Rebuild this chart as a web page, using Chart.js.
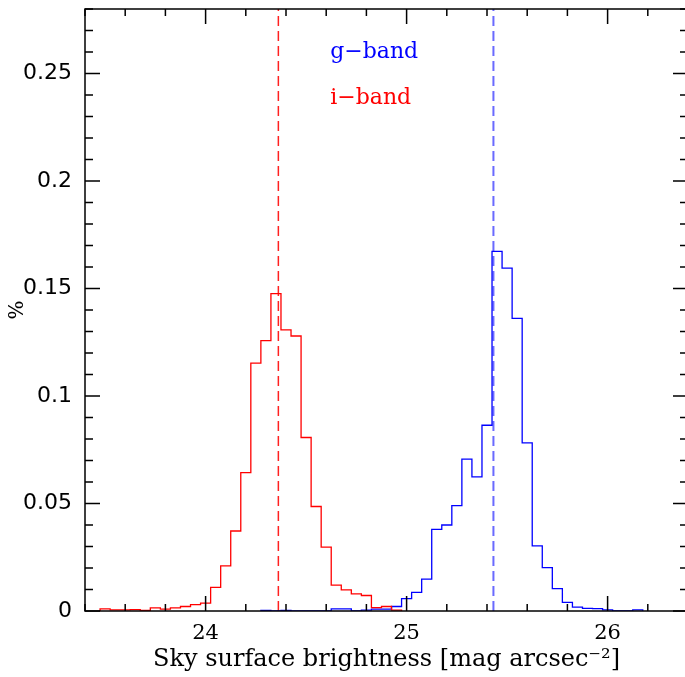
<!DOCTYPE html>
<html>
<head>
<meta charset="utf-8">
<script src="https://cdn.jsdelivr.net/npm/chart.js@4.4.1/dist/chart.umd.min.js"></script>
<style>
  html, body { margin: 0; padding: 0; background: #fff; overflow: hidden; }
  #wrap { width: 690px; height: 677px; }
</style>
</head>
<body>
<div id="wrap"><canvas id="myChart" width="690" height="677"></canvas></div>
<script>
// centros de los bins (mag arcsec^-2), ancho 0.05
const magBins = [
  23.50, 23.55, 23.60, 23.65, 23.70, 23.75, 23.80, 23.85, 23.90, 23.95,
  24.00, 24.05, 24.10, 24.15, 24.20, 24.25, 24.30, 24.35, 24.40, 24.45,
  24.50, 24.55, 24.60, 24.65, 24.70, 24.75, 24.80, 24.85, 24.90, 24.95,
  25.00, 25.05, 25.10, 25.15, 25.20, 25.25, 25.30, 25.35, 25.40, 25.45,
  25.50, 25.55, 25.60, 25.65, 25.70, 25.75, 25.80, 25.85, 25.90, 25.95,
  26.00, 26.05, 26.10, 26.15
];
const binWidth = 0.05;

const iBand = [
  0.0010, 0.0005, 0.0005, 0.0006, 0.0003, 0.0015, 0.0009, 0.0015, 0.0021, 0.0030,
  0.0037, 0.0110, 0.0210, 0.0372, 0.0644, 0.1153, 0.1258, 0.1476, 0.1308, 0.1279,
  0.0807, 0.0486, 0.0297, 0.0120, 0.0098, 0.0080, 0.0072, 0.0016, 0.0021, 0.0004,
  0, 0, 0, 0, 0, 0, 0, 0, 0, 0,
  0, 0, 0, 0, 0, 0, 0, 0, 0, 0,
  0, 0, 0, 0
];

const gBand = [
  0, 0, 0, 0, 0, 0, 0, 0, 0, 0,
  0, 0, 0, 0, 0, 0, 0.0003, 0, 0.0003, 0,
  0, 0, 0, 0.0010, 0.0010, 0, 0.0004, 0.0009, 0.0009, 0.0021,
  0.0058, 0.0087, 0.0148, 0.0380, 0.0400, 0.0490, 0.0706, 0.0624, 0.0864, 0.1673,
  0.1595, 0.1361, 0.0782, 0.0303, 0.0202, 0.0104, 0.0040, 0.0018, 0.0012, 0.0011,
  0.0005, 0, 0, 0.0005
];

// medianas (lineas punteadas)
const iMedian = 24.362;
const gMedian = 25.432;

const xTicks = [24, 25, 26];
const yTicks = [0, 0.05, 0.1, 0.15, 0.2, 0.25];
const yTickLabels = ["0", "0.05", "0.1", "0.15", "0.2", "0.25"];

const xMin = 23.4, xMax = 26.4;
const yMin = 0, yMax = 0.28;

// arma los escalones del histograma (solo entre el primer y el ultimo bin no vacio)
function histograma(valores) {
  let ini = 0, fin = valores.length - 1;
  while (ini < fin && valores[ini] === 0) ini++;
  while (fin > ini && valores[fin] === 0) fin--;
  let pts = [{ x: magBins[ini] - binWidth / 2, y: 0 }];
  for (let i = ini; i <= fin; i++) {
    pts.push({ x: magBins[i] - binWidth / 2, y: valores[i] });
  }
  pts.push({ x: magBins[fin] + binWidth / 2, y: 0 });
  return pts;
}

// marco con ticks hacia adentro en los 4 lados + etiquetas de banda
const marcoPlugin = {
  id: "marco",
  afterDraw(chart) {
    const ctx = chart.ctx;
    const a = chart.chartArea;
    const sx = chart.scales.x;
    const sy = chart.scales.y;
    ctx.save();
    ctx.strokeStyle = "#000";
    ctx.lineWidth = 1.5;
    ctx.strokeRect(a.left, a.top, a.right - a.left, a.bottom - a.top);

    // ticks x: menores cada 0.2
    for (let k = 0; k <= 15; k++) {
      const v = xMin + k * 0.2;
      const px = sx.getPixelForValue(v);
      const mayor = Math.abs(v - Math.round(v)) < 1e-6;
      const len = mayor ? 15 : 7;
      ctx.beginPath();
      ctx.moveTo(px, a.bottom); ctx.lineTo(px, a.bottom - len);
      ctx.moveTo(px, a.top); ctx.lineTo(px, a.top + len);
      ctx.stroke();
    }
    // ticks y: menores cada 0.01
    for (let k = 0; k <= 28; k++) {
      const v = k * 0.01;
      const py = sy.getPixelForValue(v);
      const len = (k % 5 === 0) ? 15 : 8;
      ctx.beginPath();
      ctx.moveTo(a.left, py); ctx.lineTo(a.left + len, py);
      ctx.moveTo(a.right, py); ctx.lineTo(a.right - len, py);
      ctx.stroke();
    }

    ctx.font = "22px 'DejaVu Serif'";
    ctx.textAlign = "left";
    ctx.textBaseline = "alphabetic";
    ctx.fillStyle = "#0000ff";
    ctx.fillText("g\u2212band", sx.getPixelForValue(24.62), sy.getPixelForValue(0.257));
    ctx.fillStyle = "#ff0000";
    ctx.fillText("i\u2212band", sx.getPixelForValue(24.62), sy.getPixelForValue(0.2358));
    ctx.restore();
  }
};

var ctx = document.getElementById("myChart").getContext("2d");
var myChart = new Chart(ctx, {
  type: "line",
  data: {
    datasets: [
      {
        label: "i-band",
        data: histograma(iBand),
        borderColor: "#ff0000",
        borderWidth: 1.3,
        stepped: "before",
        fill: false,
        pointRadius: 0,
      },
      {
        label: "g-band",
        data: histograma(gBand),
        borderColor: "#0000ff",
        borderWidth: 1.3,
        stepped: "before",
        fill: false,
        pointRadius: 0,
      },
      {
        label: "mediana i",
        data: [{ x: iMedian, y: yMin }, { x: iMedian, y: yMax }],
        borderColor: "#ff2020",
        borderWidth: 1.5,
        borderDash: [10, 5],
        pointRadius: 0,
      },
      {
        label: "mediana g",
        data: [{ x: gMedian, y: yMin }, { x: gMedian, y: yMax }],
        borderColor: "#6a6aff",
        borderWidth: 2,
        borderDash: [10, 5],
        pointRadius: 0,
      },
    ],
  },
  options: {
    responsive: false,
    animation: false,
    devicePixelRatio: 1,
    layout: { padding: { top: 9, right: 2, left: 0, bottom: 0 } },
    plugins: {
      legend: { display: false },
      tooltip: { enabled: false },
    },
    scales: {
      x: {
        type: "linear",
        min: xMin,
        max: xMax,
        grid: { display: false, drawTicks: false },
        border: { display: false },
        afterBuildTicks: function (s) {
          s.ticks = xTicks.map((v) => ({ value: v }));
        },
        afterFit: function (s) {
          s.height = 66;
          s.paddingLeft = 0;
          s.paddingRight = 0;
        },
        ticks: {
          autoSkip: false,
          maxRotation: 0,
          padding: 10,
          color: "#000",
          font: { family: "DejaVu Serif", size: 21 },
          callback: (v) => String(v),
        },
        title: {
          display: true,
          text: "Sky surface brightness [mag arcsec\u207B\u00B2]",
          color: "#000",
          font: { family: "DejaVu Serif", size: 24 },
          padding: { top: 0, bottom: 3 },
        },
      },
      y: {
        type: "linear",
        min: yMin,
        max: yMax,
        grid: { display: false, drawTicks: false },
        border: { display: false },
        afterBuildTicks: function (s) {
          s.ticks = yTicks.map((v) => ({ value: v }));
        },
        afterFit: function (s) {
          s.width = 85;
          s.paddingTop = 0;
          s.paddingBottom = 0;
        },
        ticks: {
          autoSkip: false,
          padding: 13,
          color: "#000",
          font: { family: "DejaVu Sans", size: 22 },
          callback: (v, i) => yTickLabels[i],
        },
        title: {
          display: true,
          text: "%",
          color: "#000",
          font: { family: "DejaVu Serif", size: 20 },
          padding: { top: 6, bottom: 0 },
        },
      },
    },
  },
  plugins: [marcoPlugin],
});
</script>
</body>
</html>
